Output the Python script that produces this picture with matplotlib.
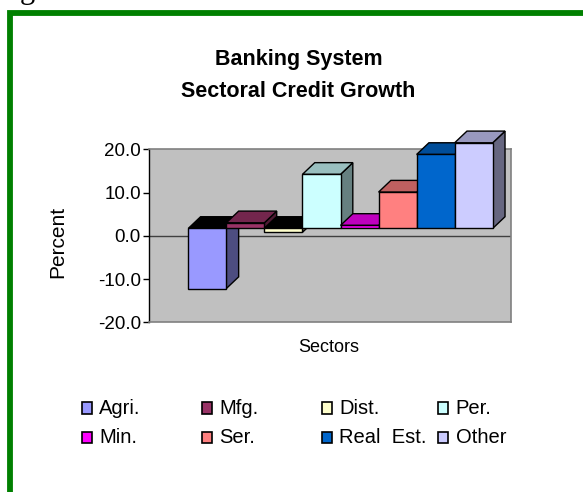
import matplotlib
matplotlib.use("Agg")
import matplotlib.pyplot as plt
from matplotlib.patches import Polygon, Rectangle
import matplotlib.colors as mcolors

# ---- data ----
sectors = ["Agri.", "Mfg.", "Dist.", "Per.", "Min.", "Ser.", "Real  Est.", "Other"]
growth = [-13.9, 1.3, -0.9, 12.5, 0.7, 8.4, 17.1, 19.8]
colors = ["#9999FF", "#993366", "#FFFFCC", "#CCFFFF", "#FF00FF", "#FF8080", "#0066CC", "#CCCCFF"]
yticks = [-20, -10, 0, 10, 20]
ytick_labels = ["-20.0", "-10.0", "0.0", "10.0", "20.0"]

W, H = 583, 492
fig = plt.figure(figsize=(W / 100, H / 100), dpi=100)
fig.patch.set_facecolor("white")

# axes (back wall)
L, R, T, B = 149.3, 511.0, 149.3, 322.3
ax = fig.add_axes([L / W, (H - B) / H, (R - L) / W, (B - T) / H])
ax.set_facecolor("#C0C0C0")
ax.set_xlim(-1.525, 7.98)
ax.set_ylim(-20, 20)
for s in ["top", "right", "bottom"]:
    ax.spines[s].set_color("#808080")
    ax.spines[s].set_linewidth(1.2)
ax.spines["left"].set_color("black")
ax.spines["left"].set_linewidth(1.0)
ax.set_xticks([])
ax.set_yticks(yticks)
ax.set_yticklabels(ytick_labels, fontsize=13.5, family="Liberation Sans")
ax.tick_params(axis="y", direction="out", length=4, width=1, pad=2)
ax.axhline(0, color="#404040", lw=1.0, zorder=1)

# pseudo-3D bars
BASE = 1.71   # front-face baseline offset (style)
DX, DY = 0.323, 2.7  # depth offset
for i, (v, c) in enumerate(zip(growth, colors)):
    rgb = mcolors.to_rgb(c)
    top_c = tuple(0.75 * k for k in rgb)
    side_c = tuple(0.5 * k for k in rgb)
    x0, x1 = i - 0.5, i + 0.5
    b, t = BASE, BASE + v
    z = 3 + i * 0.1
    if v >= 0:
        top = [(x0, t), (x1, t), (x1 + DX, t + DY), (x0 + DX, t + DY)]
        side = [(x1, b), (x1, t), (x1 + DX, t + DY), (x1 + DX, b + DY)]
        tc = top_c
    else:
        top = [(x0, b), (x1, b), (x1 + DX, b + DY), (x0 + DX, b + DY)]
        side = [(x1, t), (x1, b), (x1 + DX, b + DY), (x1 + DX, t + DY)]
        tc = "black"
    ax.add_patch(Polygon(side, closed=True, facecolor=side_c, edgecolor="black",
                         lw=1.0, zorder=z, clip_on=False))
    ax.add_patch(Polygon(top, closed=True, facecolor=tc, edgecolor="black",
                         lw=1.0, zorder=z, clip_on=False))
    ax.bar(i, v, bottom=BASE, width=1.0, color=c, edgecolor="black", lw=1.0,
           zorder=z, clip_on=False)

# titles & labels
fig.text(299 / W, 1 - 65 / H, "Banking System", ha="center", va="baseline",
         fontsize=15.5, fontweight="bold", family="Liberation Sans")
fig.text(298 / W, 1 - 97 / H, "Sectoral Credit Growth", ha="center", va="baseline",
         fontsize=15.5, fontweight="bold", family="Liberation Sans")
fig.text(329 / W, 1 - 348 / H, "Sectors", ha="center", va="center",
         fontsize=13, family="Liberation Sans")
fig.text(58 / W, 1 - 241.7 / H, "Percent", ha="center", va="center", rotation=90,
         fontsize=15, family="Liberation Sans")

# legend (manual grid, Excel-style)
col_x = [81.7, 201.7, 321.7, 438.3]
row_y = [408.0, 437.5]
for k, (name, c) in enumerate(zip(sectors, colors)):
    r, cidx = divmod(k, 4)
    sx, sy = col_x[cidx], row_y[r]
    fig.patches.append(Rectangle((sx / W, 1 - (sy + 5.8) / H), 10 / W, 11.5 / H,
                                 transform=fig.transFigure, facecolor=c,
                                 edgecolor="black", lw=1.2))
    fig.text((sx + 17.5) / W, 1 - sy / H, name, ha="left", va="center",
             fontsize=14.5, family="Liberation Sans")

# green frame
fig.patches.append(Rectangle((10.2 / W, -0.1), 1.2, (1 + 0.1) - 13 / H,
                             transform=fig.transFigure, fill=False,
                             edgecolor="#008000", lw=4.2, clip_on=False))
# cut-off caption glyph at the top (as in the reference)
fig.text(20 / W, 1 + 2 / H, "g", ha="left", va="baseline", fontsize=22,
         family="Liberation Serif")

fig.savefig("out.png", dpi=100, facecolor="white")
